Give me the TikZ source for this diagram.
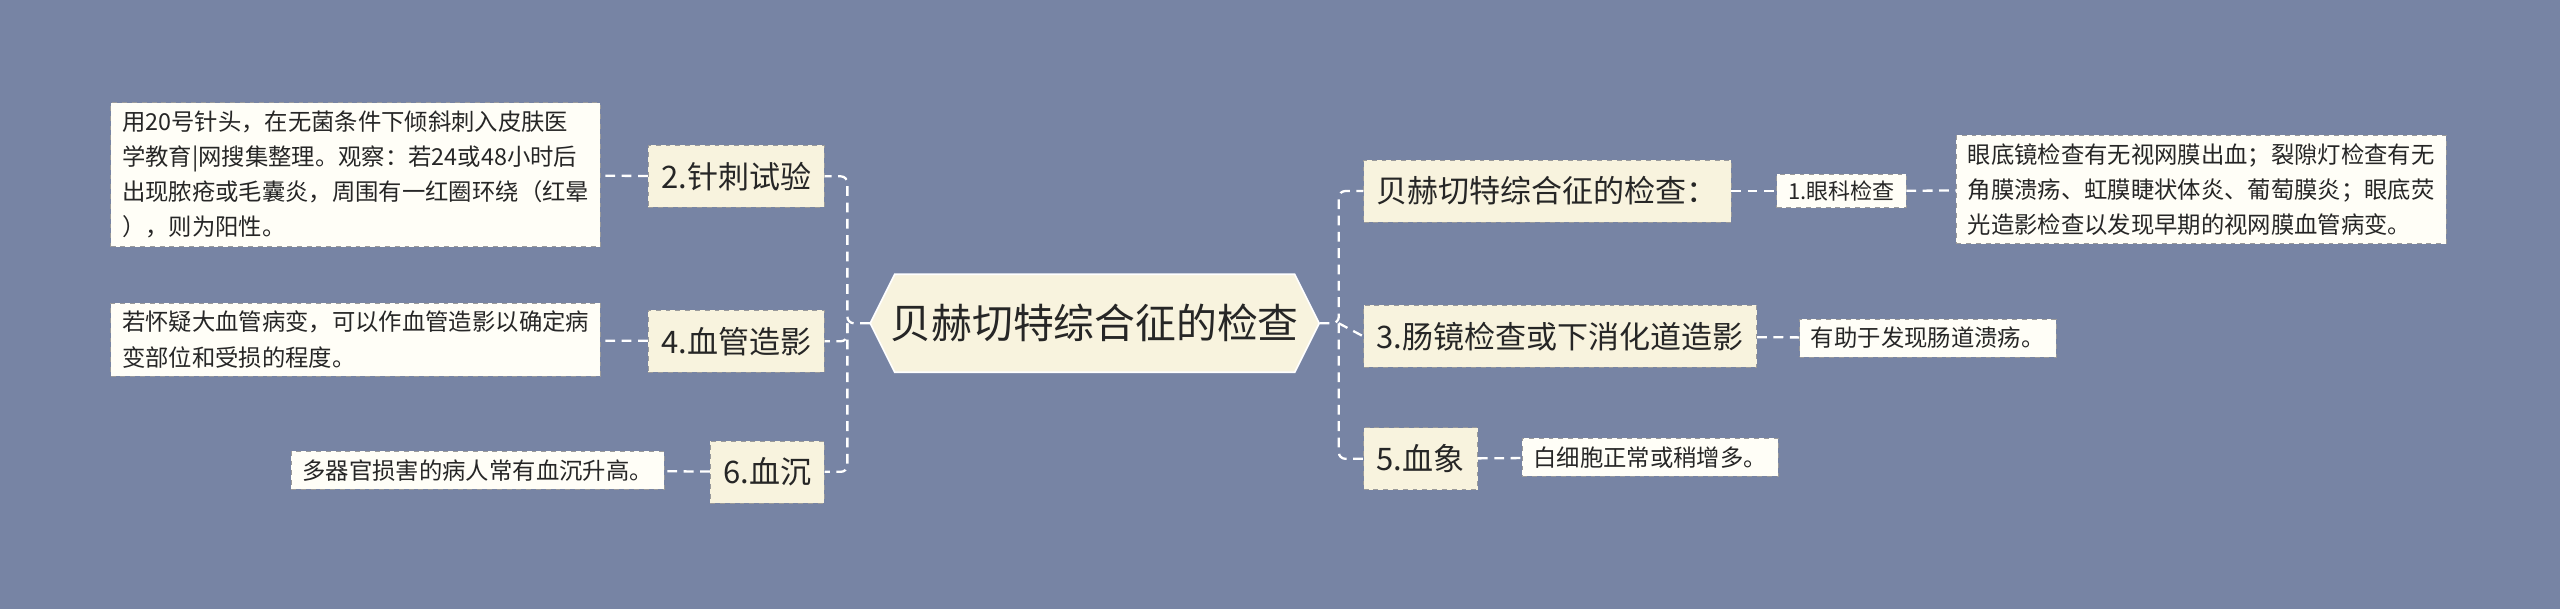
\documentclass[tikz,border=0pt]{standalone}
\usepackage{fontspec}
\setmainfont{Noto Sans CJK SC}
\definecolor{bg}{HTML}{7784A4}
\definecolor{main}{HTML}{F8F3DE}
\definecolor{leaf}{HTML}{FFFEF7}
\definecolor{bd}{HTML}{9A9A9A}
\begin{document}
\begin{tikzpicture}[x=1pt,y=-1pt,
  mid/.style={draw=bd,dashed,fill=main,inner xsep=8pt,inner ysep=0pt,minimum height=38pt,font=\fontsize{19}{22}\selectfont,text=black!85},
  sm/.style={draw=bd,dashed,fill=leaf,inner xsep=7pt,inner ysep=5pt,font=\fontsize{14.3}{21.5}\selectfont,text=black!85,align=left},
  ln/.style={draw=white,dashed,line width=1.4pt,dash pattern=on 6pt off 4pt,rounded corners=4pt}]
\fill[bg] (0,0) rectangle (1568,373);
\useasboundingbox (0,0) rectangle (1568,373);
\coordinate (cnw) at (533,168); \coordinate (cse) at (808,228);
\fill[main,draw=white,line width=1pt] (548,168) -- (793,168) -- (808,198) -- (793,228) -- (548,228) -- (533,198) -- cycle;
\node[minimum height=60pt,minimum width=275pt,inner sep=0pt,font=\fontsize{25}{28}\selectfont,text=black!85] (c) at (670.5,198) {贝赫切特综合征的检查};
% right
\node[mid,anchor=west] (r1) at (835,117) {贝赫切特综合征的检查：};
\node[sm,anchor=west,inner ysep=4pt,font=\fontsize{13.5}{18}\selectfont] (r1a) at (1088,117) {1.眼科检查};
\node[sm,anchor=west] (r1b) at (1198,116) {眼底镜检查有无视网膜出血；裂隙灯检查有无\\角膜溃疡、虹膜睫状体炎、葡萄膜炎；眼底荧\\光造影检查以发现早期的视网膜血管病变。};
\node[mid,anchor=west] (r2) at (835,206) {3.肠镜检查或下消化道造影};
\node[sm,anchor=west] (r2a) at (1102,207) {有助于发现肠道溃疡。};
\node[mid,anchor=west] (r3) at (835,281) {5.血象};
\node[sm,anchor=west] (r3a) at (932,280) {白细胞正常或稍增多。};
% left
\node[mid,anchor=east] (l1) at (505,108) {2.针刺试验};
\node[sm,anchor=east] (l1a) at (368,107) {用20号针头，在无菌条件下倾斜刺入皮肤医\\学教育|网搜集整理。观察：若24或48小时后\\出现脓疮或毛囊炎，周围有一红圈环绕（红晕\\），则为阳性。};
\node[mid,anchor=east] (l2) at (505,209) {4.血管造影};
\node[sm,anchor=east] (l2a) at (368,208) {若怀疑大血管病变，可以作血管造影以确定病\\变部位和受损的程度。};
\node[mid,anchor=east] (l3) at (505,289) {6.血沉};
\node[sm,anchor=east] (l3a) at (407,288) {多器官损害的病人常有血沉升高。};
% connectors
\coordinate (rs) at (820,198);
\coordinate (ls) at (519,198);
\draw[ln] (c.east) -- (rs) |- (r1.west);
\draw[ln] (rs) -- (r2.west);
\draw[ln] (rs) |- (r3.west);
\draw[ln] (c.west) -- (ls) |- (l1.east);
\draw[ln] (ls) |- (l2.east);
\draw[ln] (ls) |- (l3.east);
\draw[ln] (r1) -- (r1a); \draw[ln] (r1a) -- (r1b);
\draw[ln] (r2) -- (r2a); \draw[ln] (r3) -- (r3a);
\draw[ln] (l1) -- (l1a); \draw[ln] (l2) -- (l2a); \draw[ln] (l3) -- (l3a);
\end{tikzpicture}
\end{document}
